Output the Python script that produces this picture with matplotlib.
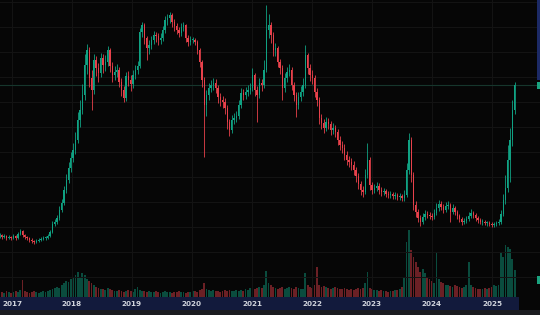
import matplotlib
matplotlib.use('Agg')
import matplotlib.pyplot as plt
import matplotlib.dates as mdates
from matplotlib.patches import Rectangle
import pandas as pd

# ---------------- data (bi-weekly candles) ----------------
dates = pd.date_range('2016-10-17', periods=225, freq='14D')
first_open = 6.6
close = [
    6.7, 6.5, 6.6, 6.4, 6.5, 6.4, 6.6, 6.4, 6.8, 7.1, 6.7, 6.5, 6.4, 6.2, 6.1, 6.0, 6.1, 6.2, 6.3, 6.4,
    6.4, 6.6, 7.0, 7.8, 8.0, 8.4, 9.2, 9.9, 11.2, 12.2, 13.4, 14.4, 15.2, 16.2, 18.2, 19.2, 20.7, 23.7, 25.2, 22.4,
    21.2, 24.2, 23.4, 22.9, 24.4, 23.7, 24.0, 25.2, 23.6, 22.7, 23.0, 23.2, 22.0, 21.2, 20.4, 22.6, 22.2, 21.8, 22.7, 23.2,
    23.6, 27.0, 27.7, 26.4, 25.4, 25.7, 26.2, 26.7, 26.6, 26.2, 26.4, 27.2, 28.2, 28.4, 28.7, 28.0, 27.6, 27.2, 26.9, 27.5,
    27.7, 26.4, 26.0, 26.2, 26.2, 26.0, 25.2, 24.0, 22.2, 19.7, 20.7, 21.4, 21.7, 21.9, 21.4, 20.5, 20.2, 20.0, 19.4, 18.0,
    17.2, 18.2, 18.4, 18.6, 19.7, 20.9, 20.7, 21.0, 21.2, 21.4, 22.7, 21.2, 20.7, 21.9, 21.7, 23.2, 27.2, 27.7, 26.7, 25.2,
    25.4, 24.0, 23.4, 21.4, 22.4, 23.0, 23.2, 21.7, 20.7, 19.7, 20.5, 21.0, 21.7, 24.7, 23.4, 22.7, 22.4, 21.0, 20.2, 18.4,
    17.9, 17.4, 18.0, 17.8, 17.2, 17.4, 17.0, 16.2, 15.7, 15.4, 14.7, 14.2, 14.0, 13.7, 13.2, 12.6, 11.8, 11.2, 11.0, 12.7,
    14.2, 11.7, 11.2, 11.4, 11.6, 11.2, 11.0, 11.1, 10.8, 10.7, 10.8, 10.6, 10.7, 10.5, 10.6, 10.4, 10.7, 13.2, 16.2, 12.7,
    9.7, 9.0, 8.4, 8.0, 8.5, 8.8, 8.7, 8.6, 8.5, 8.9, 9.4, 9.8, 9.5, 9.2, 9.6, 9.7, 9.0, 9.4, 9.0, 8.6,
    8.3, 8.0, 8.1, 8.3, 8.6, 8.9, 8.7, 8.4, 8.2, 8.0, 8.0, 7.9, 7.9, 7.8, 7.7, 7.8, 7.9, 8.0, 8.8, 10.2,
    11.4, 14.2, 16.2, 19.2, 21.7,
]
high = [
    6.9, 6.8, 6.8, 6.7, 6.7, 6.6, 6.8, 6.7, 7.0, 7.3, 7.2, 6.8, 6.6, 6.5, 6.4, 6.2, 6.3, 6.4, 6.5, 6.6,
    6.6, 6.8, 7.2, 8.1, 8.3, 8.7, 9.6, 10.3, 11.6, 12.8, 14.0, 15.0, 15.9, 17.0, 19.0, 20.2, 21.8, 24.8, 25.8, 25.5,
    23.2, 24.8, 24.6, 23.9, 24.9, 24.8, 24.7, 25.6, 25.4, 24.0, 23.6, 23.8, 23.5, 22.4, 21.6, 23.0, 23.1, 22.7, 23.2, 23.7,
    24.1, 27.4, 28.0, 27.9, 26.6, 26.2, 26.6, 27.1, 27.0, 26.9, 26.9, 27.6, 28.6, 28.8, 29.0, 28.9, 28.3, 27.9, 27.5, 27.9,
    28.0, 27.8, 26.7, 26.6, 26.5, 26.4, 26.2, 25.4, 24.2, 22.5, 21.2, 21.9, 22.2, 22.4, 22.3, 21.7, 20.9, 20.6, 20.4, 19.7,
    18.3, 18.7, 18.9, 19.1, 20.2, 21.4, 21.3, 21.5, 21.7, 21.9, 23.4, 22.9, 21.6, 22.4, 22.3, 24.2, 29.7, 28.8, 28.0, 27.0,
    25.9, 25.6, 24.3, 23.7, 22.9, 23.5, 23.8, 23.5, 22.0, 21.0, 21.0, 21.6, 22.4, 25.7, 24.9, 23.8, 23.2, 22.7, 21.4, 20.5,
    18.8, 18.3, 18.5, 18.4, 18.1, 17.9, 17.7, 17.3, 16.6, 16.1, 15.8, 15.1, 14.6, 14.4, 14.1, 13.5, 12.9, 12.1, 11.6, 13.3,
    15.9, 14.5, 12.0, 11.8, 12.0, 11.9, 11.5, 11.4, 11.3, 11.1, 11.1, 11.0, 11.0, 10.9, 10.9, 10.8, 11.2, 13.9, 16.9, 16.5,
    13.0, 10.1, 9.3, 8.7, 8.9, 9.2, 9.1, 9.0, 8.9, 9.3, 9.9, 10.2, 10.1, 9.8, 10.0, 10.1, 9.9, 9.8, 9.6, 9.2,
    8.8, 8.5, 8.4, 8.6, 9.0, 9.3, 9.1, 8.9, 8.6, 8.4, 8.3, 8.2, 8.1, 8.1, 8.0, 8.0, 8.1, 8.3, 9.2, 10.8,
    12.7, 15.7, 17.4, 20.2, 22.0,
]
low = [
    6.4, 6.3, 6.4, 6.2, 6.3, 6.2, 6.3, 6.2, 6.3, 6.7, 6.5, 6.3, 6.2, 6.0, 5.9, 5.8, 5.9, 6.0, 6.1, 6.2,
    6.2, 6.3, 6.5, 6.9, 7.6, 7.8, 8.2, 9.0, 9.7, 10.9, 11.9, 13.0, 14.0, 14.8, 15.9, 17.5, 18.8, 20.2, 22.8, 21.5,
    19.2, 20.8, 22.6, 22.0, 22.5, 22.9, 23.1, 23.6, 23.0, 22.0, 22.2, 22.5, 21.5, 20.6, 20.0, 20.1, 21.6, 21.1, 21.4, 22.3,
    22.8, 23.4, 26.5, 25.8, 24.2, 24.8, 25.3, 25.8, 26.0, 25.7, 25.8, 26.1, 26.9, 27.7, 27.9, 27.5, 27.1, 26.8, 26.5, 26.6,
    27.1, 26.0, 25.6, 25.7, 25.9, 25.7, 24.8, 23.5, 21.5, 14.5, 18.6, 20.2, 21.0, 21.2, 20.9, 19.9, 19.6, 19.4, 18.8, 17.3,
    16.6, 16.9, 17.8, 18.0, 18.3, 19.4, 20.2, 20.3, 20.6, 20.8, 21.1, 20.6, 18.0, 20.4, 21.1, 21.4, 23.0, 26.4, 25.9, 24.6,
    24.6, 23.5, 22.8, 20.2, 21.0, 22.0, 22.6, 21.2, 20.1, 18.5, 19.3, 20.1, 20.6, 21.4, 22.8, 22.1, 21.8, 20.5, 19.6, 17.8,
    17.3, 16.9, 17.1, 17.3, 16.7, 16.8, 16.5, 15.7, 15.2, 14.9, 14.2, 13.7, 13.5, 13.2, 12.7, 12.0, 11.3, 10.7, 10.5, 10.8,
    12.4, 11.2, 10.8, 10.9, 11.1, 10.8, 10.6, 10.7, 10.5, 10.4, 10.4, 10.3, 10.3, 10.2, 10.2, 10.1, 10.1, 10.5, 12.8, 12.0,
    9.2, 8.5, 8.0, 7.6, 7.8, 8.2, 8.4, 8.3, 8.2, 8.3, 8.7, 9.1, 9.2, 8.9, 9.0, 9.3, 8.0, 8.8, 8.7, 8.3,
    8.0, 7.7, 7.8, 7.9, 8.1, 8.4, 8.4, 8.1, 7.9, 7.8, 7.7, 7.7, 7.6, 7.6, 7.5, 7.5, 7.6, 7.7, 7.8, 8.6,
    9.8, 11.0, 12.0, 15.6, 18.8,
]
volume = [
    4, 5, 4, 6, 5, 4, 5, 6, 5, 7, 17, 6, 5, 4, 5, 6, 5, 4, 5, 6, 5, 6, 7,
    8, 9, 10, 9, 12, 14, 16, 15, 18, 20, 22, 25, 20, 24, 22, 18, 16, 14,
    12, 10, 9, 8, 8, 7, 9, 8, 7, 6, 6, 7, 6, 5, 6, 7, 6, 5, 8, 10,
    7, 6, 6, 5, 6, 5, 5, 6, 5, 4, 5, 6, 5, 5, 4, 5, 5, 6, 5, 5, 4, 5, 5, 6, 6, 5, 7, 8,
    14, 8, 7, 6, 7, 6, 6, 5, 6, 7, 6, 7, 6, 6, 7, 6, 7, 6, 8, 7, 9, 8, 8, 9, 10, 9, 12,
    26, 14, 12, 10, 9, 8, 9, 10, 8, 9, 10, 9, 8, 10, 9, 8, 8, 24, 12, 10, 9, 12,
    30, 12, 10, 11, 10, 9, 8, 9, 10, 9, 8, 8, 9, 8, 7, 8, 7, 8, 9, 8, 9, 14, 25,
    9, 8, 7, 7, 6, 7, 6, 6, 5, 6, 6, 7, 7, 8, 10, 20,
    55, 67, 47, 40, 35, 30, 25,
    28, 24, 20, 18, 16, 14, 45, 18, 15, 14, 12, 12, 11, 10, 12, 11, 10, 9, 10, 12, 35,
    12, 10, 9, 8, 8, 8, 9, 8, 9, 10, 12, 11, 12,
    45, 40, 52, 50, 48, 38, 27,
]
year_labels = ['2017', '2018', '2019', '2020', '2021', '2022', '2023', '2024', '2025']

# ---------------- style ----------------
BG = '#060606'
UP = '#10a283'
DOWN = '#e8414b'
GRID = '#141414'

fig = plt.figure(figsize=(5.4, 3.15), dpi=100, facecolor=BG)
rect = [0, 18 / 315, 1, 297 / 315]
vax = fig.add_axes(rect, zorder=1)
ax = fig.add_axes(rect, zorder=2)
vax.set_facecolor(BG)
ax.patch.set_visible(False)

x = mdates.date2num(dates)
opens = [first_open] + close[:-1]
colors = [UP if c >= o else DOWN for o, c in zip(opens, close)]

# x-range: 2017-01-01 sits at 12 px, 60 px per year
jan17 = mdates.date2num(pd.Timestamp('2017-01-01'))
day_px = 60 / 365.25
x0 = jan17 - 12 / day_px
x1 = x0 + 540 / day_px

# volume
vax.bar(x, volume, width=11, color=colors, alpha=0.45, linewidth=0)
vax.set_ylim(0, 297)
vax.set_xlim(x0, x1)
vax.axis('off')

# candles
bodies = [max(abs(c - o), 0.06) for o, c in zip(opens, close)]
bottoms = [min(o, c) for o, c in zip(opens, close)]
ax.vlines(x, low, high, colors=colors, linewidth=0.6, zorder=3)
ax.bar(x, bodies, bottom=bottoms, width=8, color=colors, linewidth=0, zorder=4)

ax.set_xlim(x0, x1)
ax.set_ylim(0.5, 30.2)
ax.set_yticks([2.5 * k for k in range(1, 13)])
years = [pd.Timestamp(f'{y}-01-01') for y in year_labels]
ax.set_xticks(mdates.date2num(years))
ax.grid(True, color=GRID, linewidth=0.7)
ax.tick_params(length=0, labelleft=False, labelbottom=False)
for s in ax.spines.values():
    s.set_visible(False)
ax.set_axisbelow(True)

# last price line
ax.axhline(close[-1], color='#16362c', linewidth=0.8, zorder=2)

# bottom time strip
fig.patches.append(Rectangle((0, 5 / 315), 519 / 540, 13 / 315, transform=fig.transFigure,
                             facecolor='#121a3c', edgecolor='none', zorder=-1))
fig.patches.append(Rectangle((0, 0), 1, 5 / 315, transform=fig.transFigure,
                             facecolor='#1b1c20', edgecolor='none', zorder=-1))
for d, lab in zip(years, year_labels):
    ax.text(mdates.date2num(d), -7 / 297, lab, transform=ax.get_xaxis_transform(),
            ha='center', va='center', fontsize=5.2, color='#d1d4dc', fontweight='bold',
            clip_on=False, zorder=10)

# right-edge price scale remnants
fig.patches.append(Rectangle((537 / 540, (315 - 80) / 315), 3 / 540, 80 / 315, transform=fig.transFigure,
                             facecolor='#1c2a66', edgecolor='none', zorder=5))
fig.patches.append(Rectangle((537 / 540, (315 - 89) / 315), 3 / 540, 7 / 315, transform=fig.transFigure,
                             facecolor='#1aa37f', edgecolor='none', zorder=5))
fig.patches.append(Rectangle((537 / 540, (315 - 284) / 315), 3 / 540, 8 / 315, transform=fig.transFigure,
                             facecolor='#1aa37f', edgecolor='none', zorder=5))

fig.savefig('out.png', dpi=100, facecolor=BG)
